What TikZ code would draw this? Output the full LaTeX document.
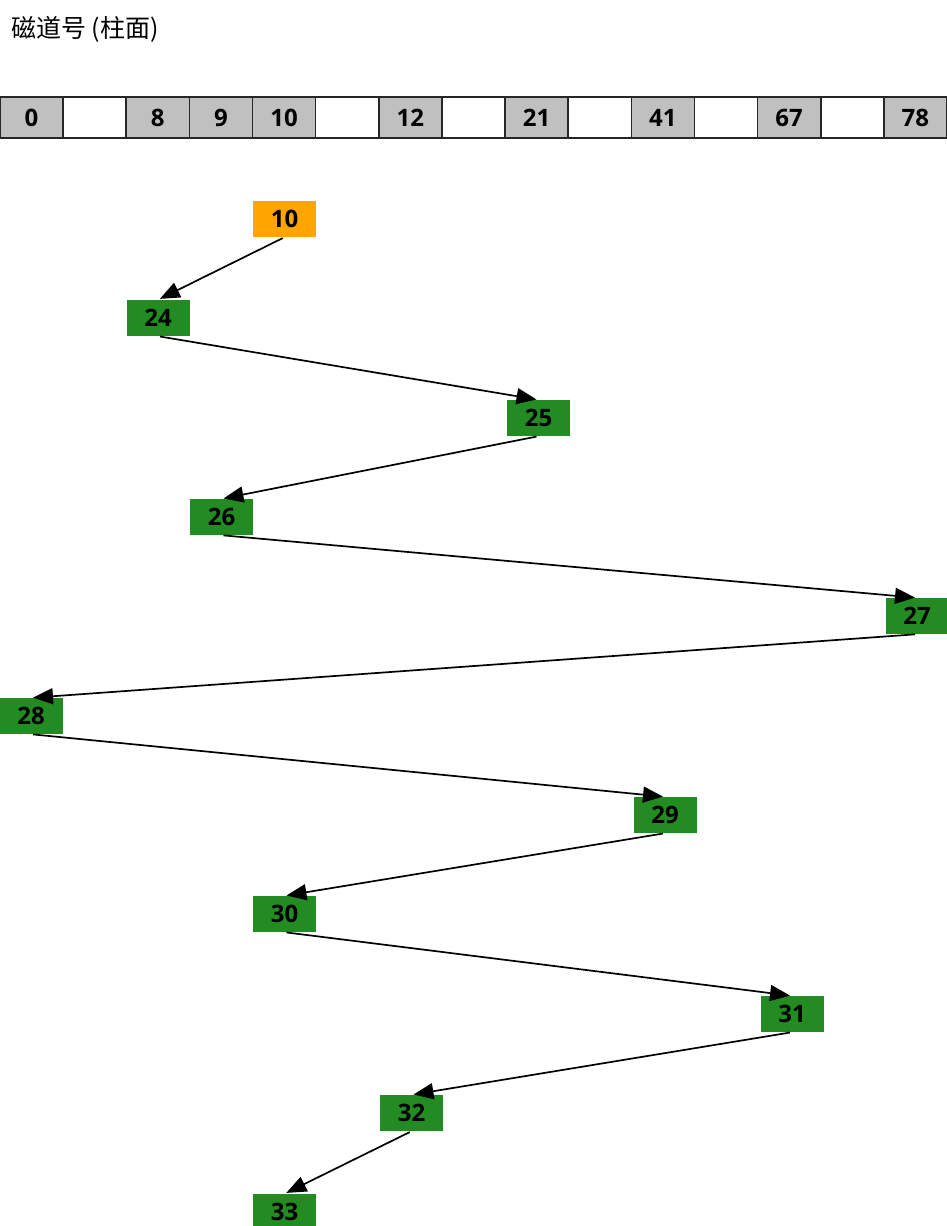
\documentclass[tikz,border=0pt]{standalone}
\usepackage{fontspec}
\setmainfont{Open Sans}
\newfontfamily\cjk{Noto Sans CJK SC}
\usetikzlibrary{arrows.meta}
\definecolor{cellgray}{HTML}{C0C0C0}
\definecolor{startorange}{HTML}{FFA500}
\definecolor{visitgreen}{HTML}{228B22}
\tikzset{
  cell/.style={draw=black!85, line width=1.6pt, minimum width=63.13pt, minimum height=41pt, inner sep=0pt, font=\fontsize{24}{28}\selectfont\bfseries},
  fullcell/.style={cell, fill=cellgray},
  emptycell/.style={cell, fill=white},
  req/.style={minimum width=63pt, minimum height=36pt, inner sep=0pt, font=\fontsize{24}{28}\selectfont\bfseries, text=black},
  startreq/.style={req, fill=startorange},
  seekreq/.style={req, fill=visitgreen},
  seek/.style={line width=1.7pt, -{Triangle[length=20pt,width=16pt]}, shorten <=2pt, shorten >=2pt}
}
\begin{document}
\begin{tikzpicture}[x=1pt,y=-1pt]
\useasboundingbox (0,0) rectangle (947,1226);
\node[anchor=west, inner sep=0pt, font=\cjk\fontsize{25}{28}\selectfont] (title) at (11,29) {磁道号 (柱面)};
% track bar
\foreach \lab [count=\i from 0] in {0,,8,9,10,,12,,21,,41,,67,,78}{
  \ifx\lab\empty
    \node[emptycell] (c\i) at ({63.13*\i+31.57},117.5) {};
  \else
    \node[fullcell] (c\i) at ({63.13*\i+31.57},117.5) {\lab};
  \fi
}
% requests
\node[startreq] (r10) at (284.5,219) {10};
\node[seekreq] (r24) at (158,318) {24};
\node[seekreq] (r25) at (538.5,418) {25};
\node[seekreq] (r26) at (221.5,517) {26};
\node[seekreq] (r27) at (917,616) {27};
\node[seekreq] (r28) at (31,716) {28};
\node[seekreq] (r29) at (665,815) {29};
\node[seekreq] (r30) at (284.5,914) {30};
\node[seekreq] (r31) at (792,1014) {31};
\node[seekreq] (r32) at (411.5,1113) {32};
\node[seekreq] (r33) at (284.5,1212) {33};
% seek path
\draw[seek] (r10.south) -- (r24.north);
\draw[seek] (r24.south) -- (r25.north);
\draw[seek] (r25.south) -- (r26.north);
\draw[seek] (r26.south) -- (r27.north);
\draw[seek] (r27.south) -- (r28.north);
\draw[seek] (r28.south) -- (r29.north);
\draw[seek] (r29.south) -- (r30.north);
\draw[seek] (r30.south) -- (r31.north);
\draw[seek] (r31.south) -- (r32.north);
\draw[seek] (r32.south) -- (r33.north);
\end{tikzpicture}
\end{document}
